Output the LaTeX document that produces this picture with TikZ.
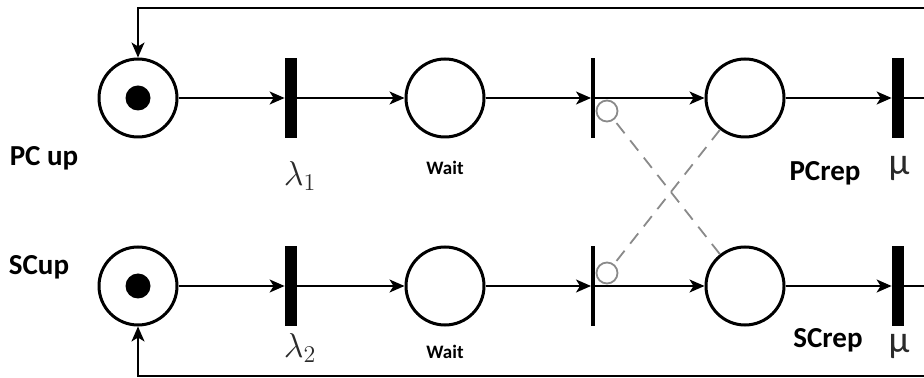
\documentclass[tikz,border=0pt]{standalone}
\usepackage{fontspec}
\setsansfont{Carlito}
\usetikzlibrary{arrows.meta, positioning}
\definecolor{inhgray}{HTML}{8A8A8A}
\definecolor{symgray}{HTML}{2A2A2A}

\begin{document}
\begin{tikzpicture}[
    x=0.5pt, y=-0.5pt,
    >={Stealth[length=7.5pt, width=6.5pt, inset=2pt]},
    place/.style={circle, draw, line width=1.5pt, minimum size=39pt, inner sep=0pt},
    token/.style={circle, fill=black, minimum size=12.5pt, inner sep=0pt},
    timedbar/.style={rectangle, fill=black, minimum width=6pt, minimum height=40pt, inner sep=0pt},
    thinbar/.style={rectangle, fill=black, minimum width=1.6pt, minimum height=40pt, inner sep=0pt},
    inhcirc/.style={circle, draw=inhgray, line width=0.9pt, minimum size=10.5pt, inner sep=0pt},
    arc/.style={->, line width=0.8pt},
    inharc/.style={inhgray, line width=0.9pt, dash pattern=on 6.5pt off 4.5pt},
    lbl/.style={font=\sffamily\bfseries\fontsize{14.5}{17}\selectfont},
    small/.style={font=\sffamily\bfseries\fontsize{9.5}{11}\selectfont},
    rate/.style={text=symgray, font=\fontsize{17}{20}\selectfont},
    urate/.style={text=symgray, font=\sffamily\fontsize{19}{22}\selectfont},
  ]

  \useasboundingbox (0,0) rectangle (924,378);

  \def\ytop{98}
  \def\ybot{286}

  % === PC row ===
  \node[place] (pPCup) at (138,\ytop) {};
  \node[token] (kPC) at (pPCup) {};
  \node[timedbar] (tL1) at (291,\ytop) {};
  \node[place] (pWait1) at (445,\ytop) {};
  \node[thinbar] (tI1) at (593,\ytop) {};
  \node[place] (pPCrep) at (745,\ytop) {};
  \node[timedbar] (tMu1) at (898,\ytop) {};
  \coordinate (eTop) at (930,\ytop);

  % === SC row ===
  \node[place] (pSCup) at (138,\ybot) {};
  \node[token] (kSC) at (pSCup) {};
  \node[timedbar] (tL2) at (291,\ybot) {};
  \node[place] (pWait2) at (445,\ybot) {};
  \node[thinbar] (tI2) at (593,\ybot) {};
  \node[place] (pSCrep) at (745,\ybot) {};
  \node[timedbar] (tMu2) at (898,\ybot) {};
  \coordinate (eBot) at (930,\ybot);

  % Inhibitor ends
  \node[inhcirc] (iI1) at (607,111) {};
  \node[inhcirc] (iI2) at (607,273) {};

  % Arcs
  \draw[arc] (pPCup) -- (tL1);
  \draw[arc] (tL1) -- (pWait1);
  \draw[arc] (pWait1) -- (tI1);
  \draw[arc] (tI1) -- (pPCrep);
  \draw[arc] (pPCrep) -- (tMu1);
  \draw[line width=0.8pt] (tMu1) -- (eTop);

  \draw[arc] (pSCup) -- (tL2);
  \draw[arc] (tL2) -- (pWait2);
  \draw[arc] (pWait2) -- (tI2);
  \draw[arc] (tI2) -- (pSCrep);
  \draw[arc] (pSCrep) -- (tMu2);
  \draw[line width=0.8pt] (tMu2) -- (eBot);

  % Feedback loops
  \coordinate (fbTop) at (930,8);
  \coordinate (fbBot) at (930,376);
  \draw[arc] (fbTop) -- (pPCup |- fbTop) -- (pPCup);
  \draw[arc, line width=1pt] (fbBot) -- (pSCup |- fbBot) -- (pSCup);

  % Inhibitor arcs
  \draw[inharc] (pSCrep) -- (iI1);
  \draw[inharc] (pPCrep) -- (iI2);

  % Labels
  \node[lbl] (nPCup) at (44,158) {PC up};
  \node[lbl] (nSCup) at (39,267) {SCup};
  \node[rate] (nL1) at (300,176) {$\lambda_1$};
  \node[rate] (nL2) at (300,348) {$\lambda_2$};
  \node[small] (nW1) at (445,168) {Wait};
  \node[small] (nW2) at (445,352) {Wait};
  \node[lbl] (nPCrep) at (825,173) {PCrep};
  \node[lbl] (nSCrep) at (828,340) {SCrep};
  \node[urate] (nMu1) at (899,168) {μ};
  \node[urate] (nMu2) at (899,346) {μ};

\end{tikzpicture}
\end{document}
